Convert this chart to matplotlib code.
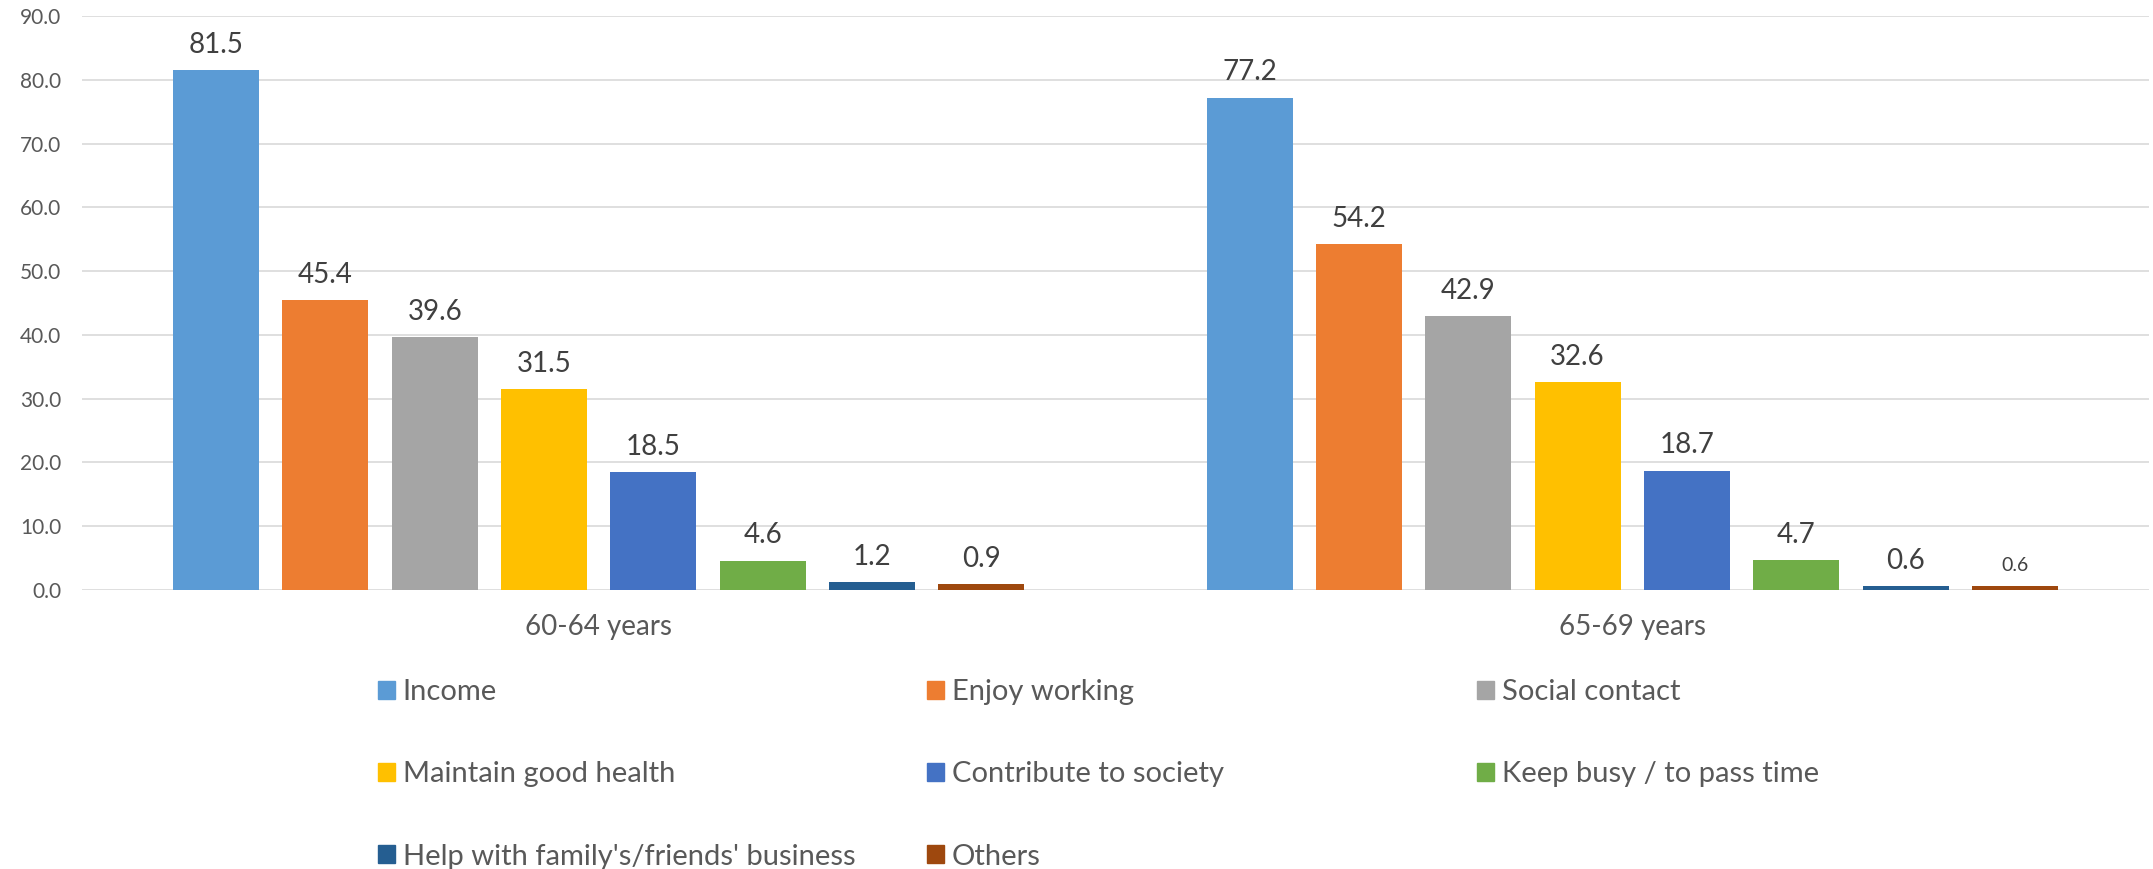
## grouped bar chart: reasons for working, by age group

import numpy as np
import matplotlib as mpl
mpl.use('Agg')
import matplotlib.pyplot as plt
from matplotlib.patches import Patch

groups = ['60-64 years', '65-69 years']
reasons = ['Income', 'Enjoy working', 'Social contact', 'Maintain good health',
           'Contribute to society', 'Keep busy / to pass time',
           "Help with family's/friends' business", 'Others']
age_60_64 = [81.5, 45.4, 39.6, 31.5, 18.5, 4.6, 1.2, 0.9]
age_65_69 = [77.2, 54.2, 42.9, 32.6, 18.7, 4.7, 0.6, 0.6]
colors = ['#5B9BD5', '#ED7D31', '#A5A5A5', '#FFC000',
          '#4472C4', '#70AD47', '#255E91', '#9E480E']
yticks = np.arange(0, 91, 10)

plt.rcParams['font.family'] = ['Lato', 'DejaVu Sans']
txt = '#595959'

fig = plt.figure(figsize=(21.53, 8.69), dpi=100)
ax = fig.add_axes([82/2153, 1-590/869, 2067/2153, 574/869])

step = 0.1058
width = 0.0832
x = np.arange(len(groups))
data = np.array([age_60_64, age_65_69]).T  # rows = reasons

for i, (name, vals, c) in enumerate(zip(reasons, data, colors)):
	pos = x + (i - 3.5)*step
	ax.bar(pos, vals, width, color=c, zorder=3, label=name)
	for j, (p, v) in enumerate(zip(pos, vals)):
		small = (j == 1 and i == 7)  # the odd little label in the original
		ax.annotate('%.1f' % v, (p, v), xytext=(0, 9), textcoords='offset points',
			ha='center', va='bottom', fontsize=14 if small else 20, color='#404040')

ax.set_xlim(-0.5, 1.5)
ax.set_ylim(0, 90)
ax.set_yticks(yticks)
ax.set_yticklabels(['%.1f' % t for t in yticks])
ax.set_xticks(x)
ax.set_xticklabels(groups)
ax.tick_params(axis='y', length=0, pad=15, labelsize=15, labelcolor=txt)
ax.tick_params(axis='x', length=0, pad=17, labelsize=20, labelcolor=txt)
ax.grid(axis='y', color='#D9D9D9', linewidth=1.2, zorder=0)
for s in ax.spines.values():
	s.set_visible(False)

# legend: three fixed-position columns like the excel one
cols = [[0, 3, 6], [1, 4, 7], [2, 5]]
col_x = [378, 927, 1477]
for idx, cx in zip(cols, col_x):
	handles = [Patch(color=colors[k], label=reasons[k]) for k in idx]
	fig.legend(handles=handles, loc='upper left', bbox_to_anchor=(cx/2153, 1-679/869),
		frameon=False, fontsize=21, labelcolor=txt, borderpad=0, borderaxespad=0,
		handlelength=0.58, handleheight=0.58, handletextpad=0.27, labelspacing=1.93)

fig.savefig('out.png', dpi=100)
